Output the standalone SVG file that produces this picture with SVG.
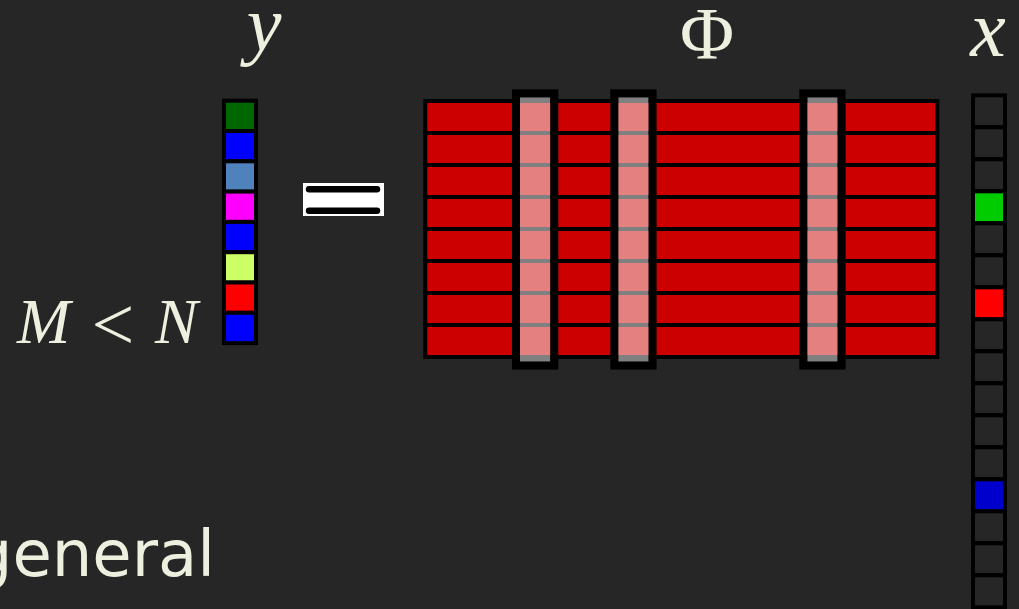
<svg xmlns="http://www.w3.org/2000/svg" width="1019" height="609" viewBox="0 0 1019 609">
<style>
.lbl{fill:#EEF0DF}
.math{font-family:"Liberation Serif","DejaVu Serif",serif;font-style:italic}
.up{font-family:"Liberation Serif","DejaVu Serif",serif}
.cell{stroke:#000;stroke-width:4}
.row{fill:#CC0000;stroke:#000;stroke-width:4}
.pk{fill:#E58080}
.colb{fill:none;stroke:#000;stroke-width:8}
</style>
<rect width="1019" height="609" fill="#262626"/>

<g id="label-y"><text class="lbl math" x="264" y="50" font-size="78" text-anchor="middle">y</text></g>
<g id="label-phi"><text class="lbl up" x="707" y="59" font-size="74" text-anchor="middle">Φ</text></g>
<g id="label-x"><text class="lbl math" x="988" y="56" font-size="80" text-anchor="middle">x</text></g>
<g id="label-mn">
<text class="lbl math" x="17" y="343" font-size="64">M</text>
<text class="lbl up" x="113" y="350" font-size="76" text-anchor="middle">&lt;</text>
<text class="lbl math" x="155" y="343" font-size="64">N</text>
</g>
<g id="label-general"><text class="lbl" x="215" y="576" font-size="64" text-anchor="end" font-family="'DejaVu Sans','Liberation Sans',sans-serif">general</text></g>

<g id="vector-y">
<rect class="cell" x="224" y="100.7" width="32" height="30.3" fill="#006600"/>
<rect class="cell" x="224" y="131" width="32" height="30.3" fill="#0000FF"/>
<rect class="cell" x="224" y="161.3" width="32" height="30.3" fill="#4F81BD"/>
<rect class="cell" x="224" y="191.6" width="32" height="30.3" fill="#FF00FF"/>
<rect class="cell" x="224" y="221.9" width="32" height="30.3" fill="#0000FF"/>
<rect class="cell" x="224" y="252.2" width="32" height="30.3" fill="#CCFF66"/>
<rect class="cell" x="224" y="282.5" width="32" height="30.3" fill="#FF0000"/>
<rect class="cell" x="224" y="312.8" width="32" height="30.3" fill="#0000FF"/>
</g>

<g id="equals">
<rect x="303" y="183" width="81" height="33" fill="#FFFFFF"/>
<line x1="309" y1="189.3" x2="377" y2="189.3" stroke="#000" stroke-width="6.5" stroke-linecap="round"/>
<line x1="309" y1="210.7" x2="377" y2="210.7" stroke="#000" stroke-width="6.5" stroke-linecap="round"/>
</g>

<g id="matrix-phi">
<rect class="row" x="425.3" y="101" width="512" height="32"/>
<rect class="row" x="425.3" y="133" width="512" height="32"/>
<rect class="row" x="425.3" y="165" width="512" height="32"/>
<rect class="row" x="425.3" y="197" width="512" height="32"/>
<rect class="row" x="425.3" y="229" width="512" height="32"/>
<rect class="row" x="425.3" y="261" width="512" height="32"/>
<rect class="row" x="425.3" y="293" width="512" height="32"/>
<rect class="row" x="425.3" y="325" width="512" height="32"/>
</g>

<defs>
<g id="pinkcol">
<rect x="0" y="97.3" width="30.3" height="264.4" fill="#808080"/>
<rect class="pk" x="0" y="103" width="30.3" height="28"/>
<rect class="pk" x="0" y="135" width="30.3" height="28"/>
<rect class="pk" x="0" y="167" width="30.3" height="28"/>
<rect class="pk" x="0" y="199" width="30.3" height="28"/>
<rect class="pk" x="0" y="231" width="30.3" height="28"/>
<rect class="pk" x="0" y="263" width="30.3" height="28"/>
<rect class="pk" x="0" y="295" width="30.3" height="28"/>
<rect class="pk" x="0" y="327" width="30.3" height="28"/>
<rect class="colb" x="-4" y="93.3" width="38.3" height="272.3"/>
</g>
</defs>
<g id="column-1"><use href="#pinkcol" x="520"/></g>
<g id="column-2"><use href="#pinkcol" x="618.3"/></g>
<g id="column-3"><use href="#pinkcol" x="807.3"/></g>

<g id="vector-x" fill="#262626">
<rect class="cell" x="973" y="95.3" width="32" height="32"/>
<rect class="cell" x="973" y="127.3" width="32" height="32"/>
<rect class="cell" x="973" y="159.3" width="32" height="32"/>
<rect class="cell" x="973" y="191.3" width="32" height="32" fill="#00CC00"/>
<rect class="cell" x="973" y="223.3" width="32" height="32"/>
<rect class="cell" x="973" y="255.3" width="32" height="32"/>
<rect class="cell" x="973" y="287.3" width="32" height="32" fill="#FF0000"/>
<rect class="cell" x="973" y="319.3" width="32" height="32"/>
<rect class="cell" x="973" y="351.3" width="32" height="32"/>
<rect class="cell" x="973" y="383.3" width="32" height="32"/>
<rect class="cell" x="973" y="415.3" width="32" height="32"/>
<rect class="cell" x="973" y="447.3" width="32" height="32"/>
<rect class="cell" x="973" y="479.3" width="32" height="32" fill="#0000CC"/>
<rect class="cell" x="973" y="511.3" width="32" height="32"/>
<rect class="cell" x="973" y="543.3" width="32" height="32"/>
<rect class="cell" x="973" y="575.3" width="32" height="32"/>
</g>
</svg>
